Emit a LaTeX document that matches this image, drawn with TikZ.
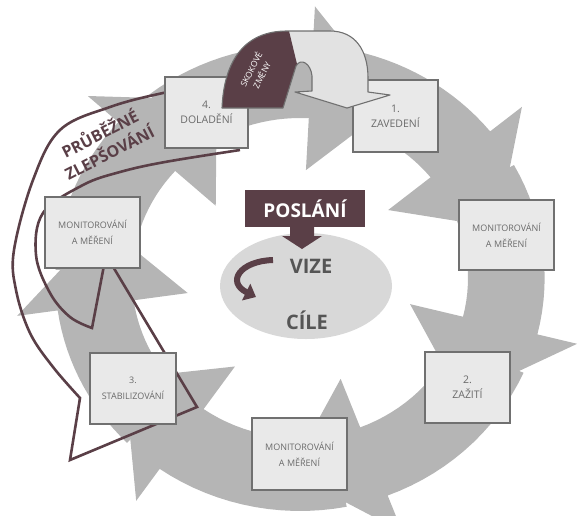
\documentclass[tikz,border=0pt]{standalone}
\usepackage{fontspec}
\setmainfont{Open Sans}
\usetikzlibrary{arrows.meta,shapes.geometric}
\definecolor{ringgray}{HTML}{B5B5B5}
\definecolor{ellgray}{HTML}{D8D8D8}
\definecolor{boxfill}{HTML}{E9E9E9}
\definecolor{boxline}{HTML}{707070}
\definecolor{txtgray}{HTML}{6A6A6A}
\definecolor{maroon}{HTML}{5A3F47}
\definecolor{archfill}{HTML}{E2E2E2}
\definecolor{vizegray}{HTML}{555555}
\begin{document}
\begin{tikzpicture}[x=1pt,y=-1pt,
  box/.style={draw=boxline, fill=boxfill, line width=1.3pt, inner sep=0pt,
    text=txtgray, align=center, minimum width=#1},
  box/.default=85pt,
  numfont/.style={font=\fontsize{10.5}{15}\selectfont},
  monfont/.style={font=\fontsize{9}{16}\selectfont},
  impr/.style={draw=maroon, line width=2.6pt, line join=miter},
]
\useasboundingbox (0,0) rectangle (588,515);
% gray ring of clockwise arrows
\begin{scope}
\clip (0,0) rectangle (588,515);
\begin{scope}[shift={(300,278)}, xscale=1.05]
\foreach \b/\s in {-87/-128, -39/-77, 14/-29, 69/24, 125/79, 172/135, 222/182} {
  \fill[ringgray] plot[domain=\s:\b, samples=16, variable=\t] (\t:233)
    -- (\b:272) -- ({\b+24}:195) -- (\b:108)
    -- plot[domain=\b:\s, samples=16, variable=\t] (\t:160) -- cycle;
}
\end{scope}
\end{scope}
% centre
\node[ellipse, fill=ellgray, minimum width=172pt, minimum height=106pt, inner sep=0pt] (ell) at (306,286) {};
\fill[maroon] (290,226) -- (314,226) -- (314,236) -- (322,236) -- (302,249) -- (282,236) -- (290,236) -- cycle;
\node[fill=maroon, text=white, font=\bfseries\fontsize{19}{22}\selectfont, minimum width=120pt, minimum height=37pt, inner sep=0pt] (posl) at (305,208.5) {POSLÁNÍ};
\node[font=\bfseries\fontsize{20}{24}\selectfont, text=vizegray] (vize) at (311,266) {VIZE};
\node[font=\bfseries\fontsize{20}{24}\selectfont, text=vizegray] (cile) at (307,320) {CÍLE};
\draw[maroon, line width=6pt, -{Triangle[length=11pt,width=18pt]}] (273,260) .. controls (240,261) and (226,282) .. (256,297);
% continuous improvement arrow (outline)
\draw[impr] plot[smooth, tension=0.6] coordinates {(205,86) (163,93) (110,107) (60,130) (33,180) (14,250) (16,290) (30,333) (53,367) (80,398)}
  -- (70,460) -- (197,407) -- (106,255) -- (92,328)
  -- plot[smooth, tension=0.6] coordinates {(92,328) (70,317) (50,293) (36,255) (43,213) (83,185) (120,172) (165,162) (240,150)};
% boxes
\node[box=83pt, minimum height=71pt, numfont] (dol) at (206.5,112.5) {4.\\DOLADĚNÍ};
\node[box=85pt, minimum height=72pt, numfont] (zav) at (395.5,116) {1.\\ZAVEDENÍ};
\node[box=95pt, minimum height=70pt, monfont] (monr) at (506.5,235) {MONITOROVÁNÍ\\A MĚŘENÍ};
\node[box=85pt, minimum height=71pt, numfont] (zaz) at (467.5,387.5) {2.\\ZAŽITÍ};
\node[box=95pt, minimum height=72pt, monfont] (monb) at (299.5,454) {MONITOROVÁNÍ\\A MĚŘENÍ};
\node[box=86pt, minimum height=71pt, monfont] (stab) at (133,388.5) {3.\\STABILIZOVÁNÍ};
\node[box=95pt, minimum height=71pt, monfont] (monl) at (92.5,232.5) {MONITOROVÁNÍ\\A MĚŘENÍ};
% leap change arch
\fill[archfill] (222,108) .. controls (224,60) and (245,31) .. (287,31) -- (330,31) .. controls (355,31) and (368,50) .. (368,78) -- (368,92) -- (390,95) -- (347,108) -- (295,92) -- (312,91) -- (312,76) .. controls (311,64) and (301,57) .. (296,66) -- (283,108) -- cycle;
\begin{scope}
\clip (200,0) -- (289,0) -- (289,31) -- (297,64) -- (283,112) -- (200,112) -- cycle;
\fill[maroon] (222,108) .. controls (224,60) and (245,31) .. (287,31) -- (330,31) .. controls (355,31) and (368,50) .. (368,78) -- (368,92) -- (390,95) -- (347,108) -- (295,92) -- (312,91) -- (312,76) .. controls (311,64) and (301,57) .. (296,66) -- (283,108) -- cycle;
\end{scope}
\draw[boxline, line width=1.1pt, line join=round] (222,108) .. controls (224,60) and (245,31) .. (287,31) -- (330,31) .. controls (355,31) and (368,50) .. (368,78) -- (368,92) -- (390,95) -- (347,108) -- (295,92) -- (312,91) -- (312,76) .. controls (311,64) and (301,57) .. (296,66) -- (283,108) -- cycle;
\node[rotate=63, text=white, font=\fontsize{8.5}{12}\selectfont, align=center, inner sep=0pt] (skok) at (256,72) {SKOKOVÉ\\ZMĚNY};
\node[rotate=27, text=maroon, font=\bfseries\fontsize{16}{21}\selectfont, align=center, inner sep=0pt] (prub) at (104,142) {PRŮBĚŽNÉ\\ZLEPŠOVÁNÍ};
\end{tikzpicture}
\end{document}
